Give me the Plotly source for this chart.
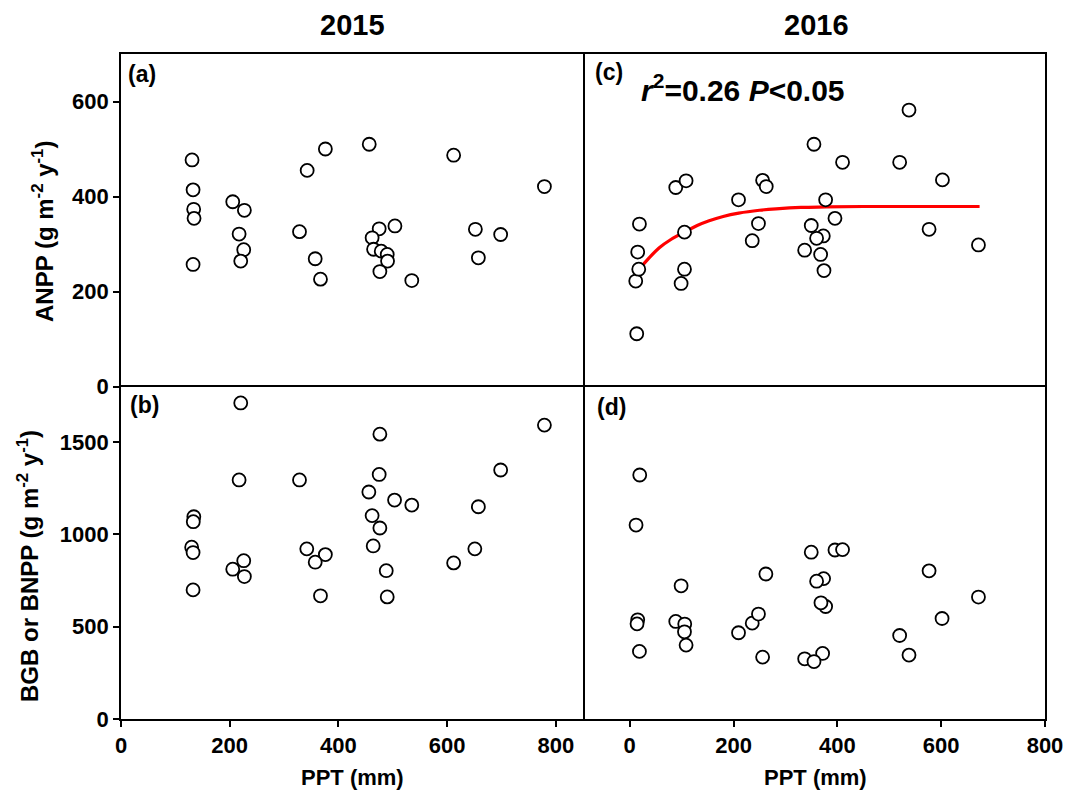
import plotly.graph_objects as go

# ---------------- data ----------------
# 2015 (panels a, b)
ppt_2015_a = [130.7, 132.6, 133.7, 134.4, 132.6, 205.6, 227, 217.3, 225.8, 220.3,
              342.5, 376, 328.4, 357.3, 367, 456.7, 475, 504, 462, 464.7,
              478.8, 489.8, 490.4, 476.3, 535, 612, 652, 657.5, 698.5, 779]
anpp_2015 = [477, 414, 373, 354, 257, 389, 371, 321, 288, 264,
             455, 500, 326, 269, 226, 510, 332, 338, 313, 289,
             285, 278, 264, 242, 223, 487, 331, 271, 320, 421]

ppt_2015_b = [220.3, 217.3, 476.3, 779, 475, 328.4, 698.5, 456, 503.3, 535,
              657.5, 462, 476.3, 134, 133, 130, 132.6, 132.6, 225.8, 205.6,
              227, 341.8, 376, 357.3, 367, 464, 488, 489.8, 612, 651]
bgb_2015 = [1711, 1294, 1542, 1591, 1324, 1294, 1348, 1229, 1185, 1158,
            1149, 1101, 1034, 1095, 1068, 930, 901, 699, 857, 811,
            771, 921, 890, 849, 667, 937, 803, 661, 845, 921]

# 2016 (panels c, d)
ppt_2016_c = [13.5, 11.6, 17.4, 15.4, 18.7, 88.7, 108.6, 105.5, 105.5, 99,
              209.6, 256, 263, 248, 236, 354.9, 410, 377.4, 395.4, 349.7,
              372.9, 360, 337, 367.8, 374.2, 538, 520, 602.4, 576.7, 671.8]
anpp_2016 = [111, 222, 247, 283, 342, 419, 433, 325, 247, 217,
             393, 434, 421, 343, 307, 510, 472, 393, 354, 339,
             317, 312, 287, 278, 244, 582, 472, 435, 331, 298]

ppt_2016_d = [19.3, 12.2, 15.4, 14.1, 18.7, 99, 88.7, 106, 105.5, 108.6,
              209.6, 236, 248, 262.3, 256, 349.7, 395.4, 410, 373.5, 360,
              377.4, 368.4, 371.6, 337, 355, 576.7, 671.8, 601.7, 520, 538]
bgb_2016 = [1321, 1050, 537, 515, 366, 721, 528, 514, 472, 400,
            467, 519, 568, 785, 335, 903, 915, 917, 760, 746,
            609, 629, 355, 326, 311, 802, 660, 544, 452, 346]

# fitted curve in panel (c)
ppt_fit = [10, 30, 57, 80, 105, 130, 153, 180, 210, 250, 282, 330, 378, 450, 540, 674]
anpp_fit = [236, 262, 292, 310, 325, 339, 349, 358, 365, 371, 374, 377, 378, 379, 379, 379]

x_ticks = [0, 200, 400, 600, 800]
y_ticks_top = [0, 200, 400, 600]
y_ticks_bot = [0, 500, 1000, 1500]

# ---------------- figure ----------------
FONT = "Liberation Sans, Arial, sans-serif"
marker = dict(symbol="circle", size=13, color="white",
              line=dict(color="black", width=1.8))

fig = go.Figure()
fig.add_trace(go.Scatter(x=ppt_2015_a, y=anpp_2015, mode="markers", marker=marker,
                         xaxis="x3", yaxis="y3", showlegend=False))
fig.add_trace(go.Scatter(x=ppt_2015_b, y=bgb_2015, mode="markers", marker=marker,
                         xaxis="x", yaxis="y", showlegend=False))
fig.add_trace(go.Scatter(x=ppt_fit, y=anpp_fit, mode="lines",
                         line=dict(color="#ff0000", width=3.2, shape="spline"),
                         xaxis="x4", yaxis="y4", showlegend=False))
fig.add_trace(go.Scatter(x=ppt_2016_c, y=anpp_2016, mode="markers", marker=marker,
                         xaxis="x4", yaxis="y4", showlegend=False))
fig.add_trace(go.Scatter(x=ppt_2016_d, y=bgb_2016, mode="markers", marker=marker,
                         xaxis="x2", yaxis="y2", showlegend=False))

LW = 1.6
axis_common = dict(showline=True, linecolor="black", linewidth=LW,
                   showgrid=False, zeroline=False,
                   tickfont=dict(family=FONT, size=22, color="black", weight="bold"))

xl = dict(range=[0, 850], domain=[0, 0.5])
xr = dict(range=[-90, 800], domain=[0.5, 1])
with_ticks = dict(tickvals=x_ticks, ticks="outside", ticklen=6, tickwidth=1.5,
                  tickcolor="black", showticklabels=True, mirror=True)
top_x = dict(ticks="", showticklabels=False, side="top", mirror=False)
y_ticked = dict(ticks="outside", ticklen=6, tickwidth=1.5, tickcolor="black",
                mirror=True, side="left")
y_plain = dict(ticks="", showticklabels=False, side="right", mirror=False)

fig.update_layout(
    width=1079, height=800,
    margin=dict(l=121, r=34, t=54, b=81),
    paper_bgcolor="white", plot_bgcolor="white",
    xaxis=dict(**axis_common, **xl, **with_ticks, anchor="y"),
    xaxis2=dict(**axis_common, **xr, **with_ticks, anchor="y2"),
    xaxis3=dict(**axis_common, **xl, **top_x, anchor="y3"),
    xaxis4=dict(**axis_common, **xr, **top_x, anchor="y4"),
    yaxis=dict(**axis_common, range=[0, 1800], domain=[0, 0.5], tickvals=y_ticks_bot,
               **y_ticked, anchor="x"),
    yaxis2=dict(**axis_common, range=[0, 1800], domain=[0, 0.5], **y_plain, anchor="x2"),
    yaxis3=dict(**axis_common, range=[0, 700], domain=[0.5, 1], tickvals=y_ticks_top,
                **y_ticked, anchor="x3"),
    yaxis4=dict(**axis_common, range=[0, 700], domain=[0.5, 1], **y_plain, anchor="x4"),
)

L, T, PW, PH = 121, 54, 924, 665


def px(x):
    return (x - L) / PW


def py(y):
    return (T + PH - y) / PH


def ann(text, x, y, size, angle=0, xanchor="center", yanchor="middle"):
    fig.add_annotation(text=text, x=px(x), y=py(y), xref="paper", yref="paper",
                       showarrow=False, textangle=angle, xanchor=xanchor, yanchor=yanchor,
                       font=dict(family=FONT, size=size, color="black"))


ann("<b>2015</b>", 352, 25, 29)
ann("<b>2016</b>", 816, 25, 29)
ann("<b>(a)</b>", 126, 74, 23, xanchor="left")
ann("<b>(b)</b>", 128, 405, 23, xanchor="left")
ann("<b>(c)</b>", 593, 72, 23, xanchor="left")
ann("<b>(d)</b>", 595, 407, 23, xanchor="left")
ann("<b><i>r</i><sup>2</sup>=0.26 <i>P</i>&lt;0.05</b>", 639, 88, 30, xanchor="left")
ann("<b>PPT (mm)</b>", 352, 777, 22)
ann("<b>PPT (mm)</b>", 815, 777, 22)
ann("<b>ANPP (g m<sup>-2</sup> y<sup>-1</sup>)</b>", 43, 232, 24, angle=-90)
ann("<b>BGB or BNPP (g m<sup>-2</sup> y<sup>-1</sup>)</b>", 28, 566, 24, angle=-90)

fig.write_html("out.html", config={"displayModeBar": False},
               post_script="document.body.style.margin='0';")
